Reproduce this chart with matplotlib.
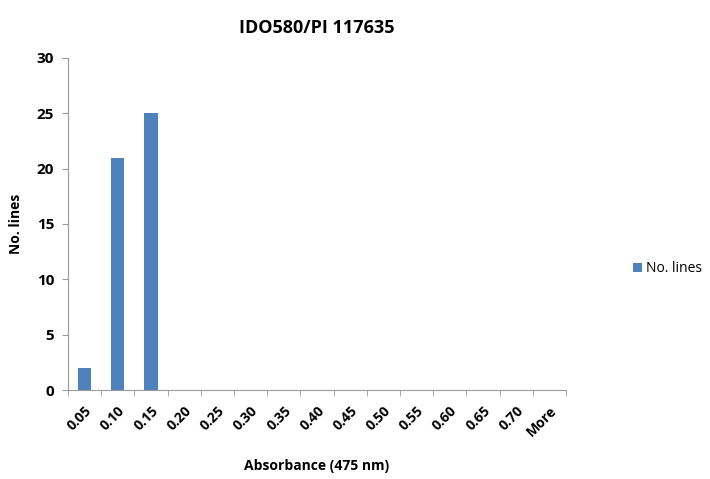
import numpy as np
import matplotlib.pyplot as plt

# Histogram bins and counts
bins = ['0.05', '0.10', '0.15', '0.20', '0.25', '0.30', '0.35', '0.40',
        '0.45', '0.50', '0.55', '0.60', '0.65', '0.70', 'More']
counts = [2, 21, 25, 0, 0, 0, 0, 0, 0, 0, 0, 0, 0, 0, 0]

plt.rcParams['font.family'] = ['Open Sans', 'DejaVu Sans']

fig = plt.figure(figsize=(7.1, 4.79), dpi=100)
ax = fig.add_axes([0.0958, 0.1858, 0.7014, 0.6932])

x = np.arange(len(bins))
bar_color = '#4F81BD'
ax.bar(x, counts, width=0.4, color=bar_color, label='No. lines', zorder=2)

ax.set_xlim(-0.5, len(bins) - 0.5)
ax.set_ylim(0, 30)
ax.set_yticks(range(0, 31, 5))
ax.set_xticks(x)
ax.set_xticklabels(bins, rotation=45, ha='right', rotation_mode='anchor',
                   fontsize=10, fontweight='bold')
ax.set_xticks(np.arange(-0.5, len(bins), 1), minor=True)
ax.tick_params(axis='x', which='major', length=0, pad=10)
ax.tick_params(axis='x', which='minor', length=4, color='#9a9a9a', direction='out')
ax.tick_params(axis='y', length=4, color='#9a9a9a', labelsize=11, pad=6)
for lbl in ax.get_yticklabels():
    lbl.set_fontweight('bold')

for side in ['top', 'right']:
    ax.spines[side].set_visible(False)
for side in ['left', 'bottom']:
    ax.spines[side].set_color('#9a9a9a')
    ax.spines[side].set_linewidth(0.8)

ax.set_title('IDO580/PI 117635', fontsize=13, fontweight='bold', pad=18)
ax.set_xlabel('Absorbance (475 nm)', fontsize=10, fontweight='bold', labelpad=14)
ax.set_ylabel('No. lines', fontsize=10, fontweight='bold', labelpad=10)

ax.legend(loc='center left', bbox_to_anchor=(1.11, 0.365), frameon=False,
          fontsize=10, handlelength=0.6, handleheight=0.6, handletextpad=0.3)

fig.savefig('out.png', dpi=100, facecolor='white')
